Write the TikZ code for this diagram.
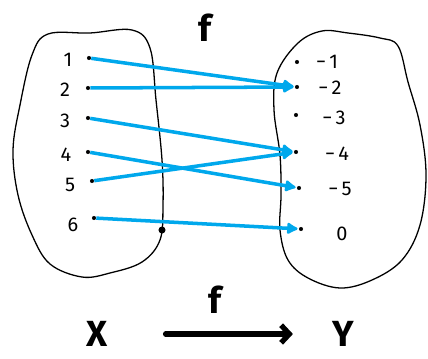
\documentclass[tikz,border=0pt]{standalone}
\usepackage{fontspec}
\setmainfont{Fira Sans}
\usetikzlibrary{arrows.meta, positioning}
\definecolor{mapblue}{RGB}{0,168,236}

\begin{document}
\begin{tikzpicture}[x=0.03cm, y=-0.03cm,
  elem/.style={circle, fill=black, inner sep=0pt, minimum size=3.5pt},
  num/.style={font=\fontsize{17}{20}\selectfont},
  big/.style={font=\fontsize{31}{36}\selectfont\bfseries},
  maparrow/.style={mapblue, line width=3pt, -{Latex[round, length=11pt, width=12pt]}, shorten >=1pt},
  blob/.style={line width=1.1pt}]
  \useasboundingbox (0,0) rectangle (428,358);

  % Domain X
  \draw[blob] plot[smooth cycle, tension=0.6] coordinates {(48,34) (90,33) (132,30) (150,48) (156,100)
    (162,160) (163,205) (160,240) (142,262) (110,273) (82,277) (50,264) (32,235) (18,195) (13,150)
    (20,105) (32,55)};
  \fill (162,230) circle (3pt);

  % Codomain Y
  \draw[blob] plot[smooth cycle, tension=0.6] coordinates {(277,73) (298,43) (322,31) (348,33)
    (380,38) (398,46) (408,82) (420,125) (426,175) (420,225) (402,260) (372,280) (340,288)
    (308,278) (288,260) (280,230) (281,195) (280,155) (274,110)};

  % Elements of X
  \node[elem] (a1) at (89,58) {};
  \node[elem] (a2) at (88,88) {};
  \node[elem] (a3) at (88,118) {};
  \node[elem] (a4) at (88,152) {};
  \node[elem] (a5) at (92,181) {};
  \node[elem] (a6) at (94,218) {};
  \node[num] (la1) at (68,60) {1};
  \node[num] (la2) at (65,90) {2};
  \node[num] (la3) at (65,121) {3};
  \node[num] (la4) at (66,155) {4};
  \node[num] (la5) at (70,185) {5};
  \node[num] (la6) at (73,225) {6};

  % Elements of Y
  \node[elem] (b1) at (297,62) {};
  \node[elem] (b2) at (297,87) {};
  \node[elem] (b3) at (296,115) {};
  \node[elem] (b4) at (296,152) {};
  \node[elem] (b5) at (299,188) {};
  \node[elem] (b6) at (301,229) {};
  \node[num] (lb1) at (327,62) {−\,1};
  \node[num] (lb2) at (330,88) {−\,2};
  \node[num] (lb3) at (334,118) {−\,3};
  \node[num] (lb4) at (337,154) {−\,4};
  \node[num] (lb5) at (340,189) {−\,5};
  \node[num] (lb6) at (342,234) {0};

  % The map f
  \draw[maparrow] (a1) -- (b2);
  \draw[maparrow] (a2) -- (b2);
  \draw[maparrow] (a3) -- (b4);
  \draw[maparrow] (a4) -- (b5);
  \draw[maparrow] (a5) -- (b4);
  \draw[maparrow] (a6) -- (b6);
  \node[big] (ftop) at (205,28) {f};

  % X --f--> Y
  \node[big] (X) at (97,334) {X};
  \node[big] (Y) at (343,334) {Y};
  \node[big] (fbot) at (215,300) {f};
  \draw[line width=4.5pt, line cap=round, -{Straight Barb[length=7pt, width=15pt]},
    shorten <=46, shorten >=30] (X) -- (Y);
\end{tikzpicture}
\end{document}
